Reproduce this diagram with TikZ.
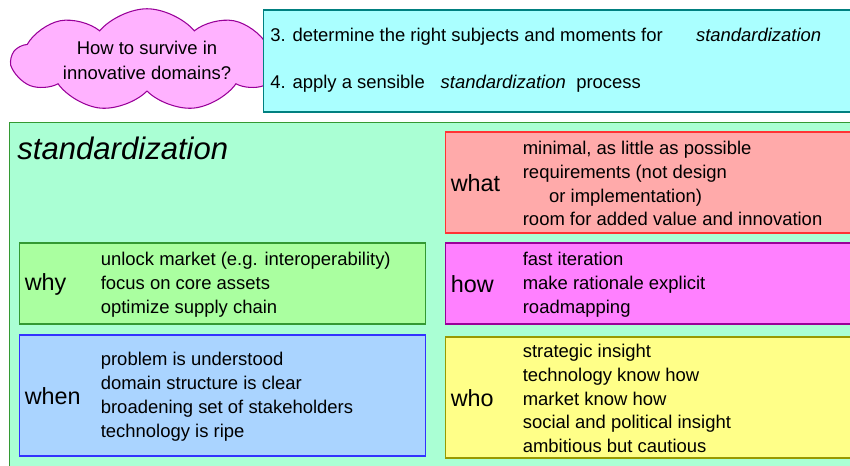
\documentclass[tikz,border=0pt]{standalone}
\usepackage{fontspec}
\setmainfont{Liberation Sans}
\usetikzlibrary{shapes.symbols,positioning}
\definecolor{cloudpink}{RGB}{255,178,255}
\definecolor{cloudline}{RGB}{153,0,153}
\definecolor{stepcyan}{RGB}{170,255,255}
\definecolor{stepline}{RGB}{0,128,128}
\definecolor{stdmint}{RGB}{170,255,212}
\definecolor{stdline}{RGB}{51,153,51}
\definecolor{whygreen}{RGB}{170,255,160}
\definecolor{whenblue}{RGB}{170,212,255}
\definecolor{whenline}{RGB}{51,51,255}
\definecolor{whatred}{RGB}{255,170,170}
\definecolor{whatline}{RGB}{255,51,51}
\definecolor{howpink}{RGB}{255,128,255}
\definecolor{howline}{RGB}{153,0,153}
\definecolor{whoyellow}{RGB}{255,255,136}
\definecolor{wholine}{RGB}{153,153,0}

\begin{document}
\begin{tikzpicture}[x=0.02cm, y=-0.02cm]
    % Define styles
    \tikzstyle{box} = [rectangle, draw, line width=0.6pt, inner sep=0pt]
    \tikzstyle{topic} = [anchor=west, inner sep=0pt, yshift=-0.02cm, font=\fontsize{13.3}{16}\selectfont]
    \tikzstyle{items} = [anchor=west, inner sep=0pt, yshift=-0.02cm, align=left, font=\fontsize{10.5}{13.6}\selectfont]
    \tikzstyle{plain} = [anchor=west, inner sep=0pt, font=\fontsize{10.5}{13.6}\selectfont]

    \clip (0,0) rectangle (850,466);

    % Question and steps
    \node (question) [cloud, draw=cloudline, fill=cloudpink, line width=0.6pt, cloud puffs=9, cloud puff arc=100, cloud ignores aspect, inner sep=-12pt, minimum width=5.4cm, minimum height=2.05cm, align=center, font=\fontsize{10.5}{14.2}\selectfont] at (147,60) {How to survive in\\innovative domains?};
    \node (steps) [box, draw=stepline, fill=stepcyan, minimum width=12.14cm, minimum height=2.04cm] at (566.5,61) {};
    \node (step3) [plain] at (270,37) {3. determine the right subjects and moments for\hspace{19pt}\textit{standardization}};
    \node (step4) [plain] at (270,84) {4. apply a sensible\hspace{9pt}\textit{standardization}\hspace{6pt}process};

    % Standardization area
    \node (std) [box, draw=stdline, fill=stdmint, minimum width=17.22cm, minimum height=7.16cm] at (439.5,301) {};
    \node (stdtitle) [anchor=base west, inner sep=0pt, font=\fontsize{17.7}{20}\selectfont\itshape] at (17,160) {standardization};

    % Boxes
    \node (why) [box, draw=stdline, fill=whygreen, minimum width=8.14cm, minimum height=1.62cm] at (222.5,283.5) {};
    \node (when) [box, draw=whenline, fill=whenblue, minimum width=8.14cm, minimum height=2.42cm] at (222.5,395.5) {};
    \node (what) [box, draw=whatline, fill=whatred, minimum width=8.3cm, minimum height=2.02cm] at (652.5,182.5) {};
    \node (how) [box, draw=howline, fill=howpink, minimum width=8.3cm, minimum height=1.62cm] at (652.5,283.5) {};
    \node (who) [box, draw=wholine, fill=whoyellow, minimum width=8.3cm, minimum height=2.42cm] at (652.5,397.5) {};

    % Labels
    \node (whylbl) [topic] at ([xshift=0.12cm]why.west) {why};
    \node (whenlbl) [topic] at ([xshift=0.12cm]when.west) {when};
    \node (whatlbl) [topic] at ([xshift=0.12cm]what.west) {what};
    \node (howlbl) [topic] at ([xshift=0.12cm]how.west) {how};
    \node (wholbl) [topic] at ([xshift=0.12cm]who.west) {who};

    % Lists
    \node (whylist) [items] at ([xshift=1.64cm]why.west) {unlock market (e.g. interoperability)\\focus on core assets\\optimize supply chain};
    \node (whenlist) [items] at ([xshift=1.64cm]when.west) {problem is understood\\domain structure is clear\\broadening set of stakeholders\\technology is ripe};
    \node (whatlist) [items] at ([xshift=1.56cm]what.west) {minimal, as little as possible\\requirements (not design\\\hspace*{15pt}or implementation)\\room for added value and innovation};
    \node (howlist) [items] at ([xshift=1.56cm]how.west) {fast iteration\\make rationale explicit\\roadmapping};
    \node (wholist) [items] at ([xshift=1.56cm]who.west) {strategic insight\\technology know how\\market know how\\social and political insight\\ambitious but cautious};
\end{tikzpicture}
\end{document}
